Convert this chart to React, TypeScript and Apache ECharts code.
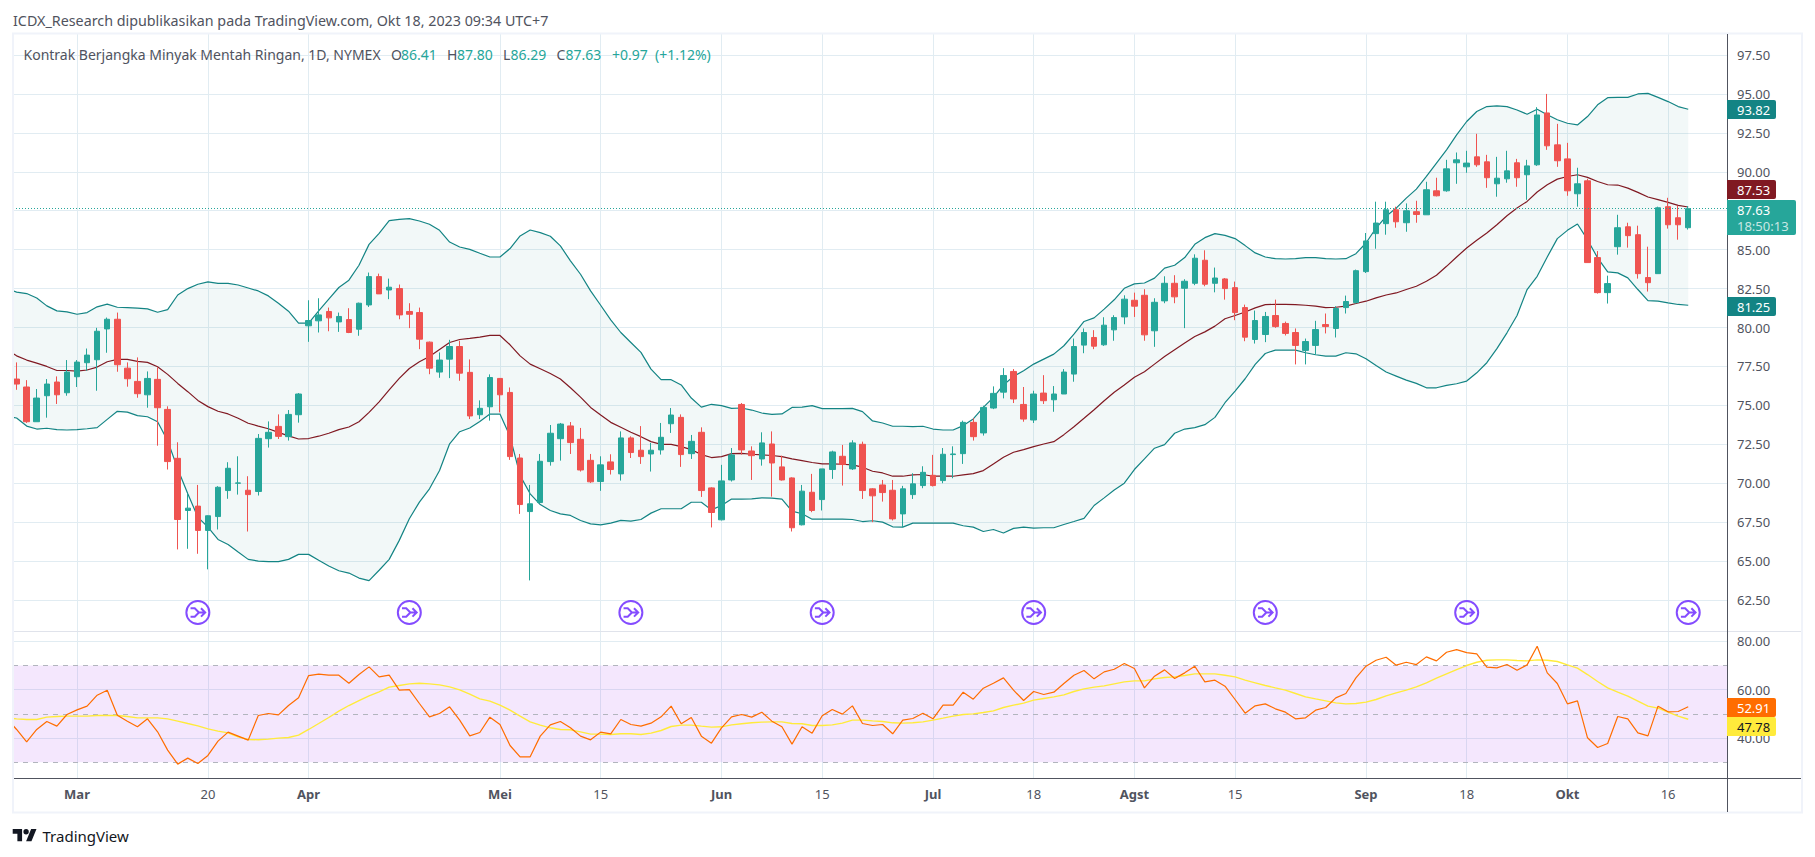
import React, { useEffect, useRef } from "react";
import * as echarts from "echarts";

const opens = [
  76.69,76.18,73.95,75.62,76.5,75.81,76.84,77.74,77.93,79.91,
  80.53,77.39,76.54,75.68,76.67,74.74,71.6,68.25,68.53,66.97,
  67.86,69.53,70.0,69.55,69.47,72.86,73.65,72.99,74.4,80.11,
  80.43,81.03,80.36,80.51,79.89,81.45,83.27,82.41,82.5,81.03,
  80.96,79.06,77.14,77.97,78.78,77.12,74.4,74.91,76.73,75.83,
  71.62,68.18,68.76,71.39,72.86,73.68,72.82,71.47,70.11,71.37,
  70.6,72.91,72.12,71.88,72.14,73.82,74.23,71.9,73.27,69.7,
  67.65,70.21,75.06,72.07,71.56,72.52,71.05,70.34,67.33,69.42,
  68.95,70.88,71.73,70.92,72.5,69.64,69.89,69.55,68.03,69.27,
  69.85,70.51,70.17,71.84,71.9,73.91,73.23,74.83,75.85,77.18,
  75.06,74.06,75.79,75.36,75.73,77.01,78.87,79.36,78.89,79.85,
  80.68,81.75,82.07,79.79,81.71,82.84,82.52,82.84,84.32,82.84,
  83.12,82.56,81.28,79.23,79.55,80.77,80.26,79.68,78.53,78.85,
  80.19,79.94,81.28,81.6,83.59,86.03,86.67,87.56,86.73,87.44,
  87.24,88.78,88.78,90.58,90.32,90.96,90.64,89.23,89.55,90.58,
  89.81,90.45,93.78,91.73,90.83,88.59,89.42,84.49,82.24,85.19,
  86.47,85.96,83.21,83.46,87.76,87.05,86.41,
];
const closes = [
  76.37,73.95,75.47,76.37,75.68,77.14,77.78,78.23,79.76,80.53,
  77.61,76.71,75.75,76.73,74.85,71.39,67.67,68.4,66.97,67.91,
  69.74,70.96,70.02,69.27,72.88,73.27,73.01,74.42,75.73,80.45,
  80.81,80.62,80.71,79.68,81.56,83.27,82.16,82.59,80.81,80.85,
  79.25,77.39,77.91,78.78,77.07,74.32,74.81,76.79,75.68,71.71,
  68.63,68.68,71.41,73.21,73.8,72.61,70.85,70.09,71.18,70.88,
  72.91,71.97,71.71,72.12,72.95,74.38,71.84,72.69,69.53,68.12,
  70.15,71.82,72.14,71.77,72.59,71.3,70.21,67.14,69.49,68.25,
  70.92,72.01,71.2,72.59,69.53,69.19,69.4,67.71,69.64,69.96,
  70.7,69.85,71.86,71.88,73.91,72.99,74.87,75.77,76.92,75.41,
  74.12,75.73,75.3,75.73,77.14,78.78,79.68,78.8,80.15,80.64,
  81.82,81.37,79.53,81.62,82.84,81.97,82.97,84.45,82.78,83.18,
  82.5,80.96,79.38,80.45,80.71,80.06,79.62,78.85,79.1,79.87,
  80.06,81.22,81.67,83.65,85.56,86.71,87.56,86.79,87.5,87.26,
  88.85,88.46,90.19,90.77,90.56,90.45,89.62,89.59,90.06,89.62,
  90.38,93.65,91.67,90.71,88.78,89.23,84.17,82.24,82.82,86.41,
  85.9,83.46,82.88,87.69,86.6,86.6,87.63,
];
const highs = [
  77.76,76.62,76.05,76.69,76.86,77.91,77.91,78.65,79.98,80.64,
  80.96,77.76,78.08,77.18,77.44,74.94,72.63,69.32,69.89,67.93,
  69.81,71.35,71.73,70.45,73.16,73.97,74.42,74.7,75.79,81.75,
  81.88,81.28,80.96,81.24,81.6,83.53,83.46,83.14,82.76,81.56,
  81.28,79.1,78.4,79.21,79.15,77.95,75.32,76.99,76.75,76.15,
  71.88,69.89,71.88,73.74,73.87,73.93,73.55,71.88,71.73,71.86,
  73.33,73.01,73.67,72.59,73.87,74.83,74.42,73.1,73.59,69.74,
  71.18,72.26,75.15,72.37,73.27,73.33,71.77,70.38,69.89,70.6,
  70.92,72.09,72.46,72.76,72.67,69.68,70.21,70.21,69.83,70.64,
  71.09,71.82,72.26,72.37,74.02,74.17,74.98,76.22,77.39,77.33,
  76.18,75.94,76.94,76.24,77.33,79.29,79.94,79.83,80.66,80.79,
  82.07,82.24,82.46,81.88,83.29,83.36,83.1,84.7,84.96,83.85,
  83.18,82.95,81.47,81.09,81.0,81.79,80.38,79.94,79.29,80.43,
  80.9,81.37,82.05,83.72,86.07,88.08,88.08,87.76,87.97,88.14,
  89.36,89.62,90.77,91.24,91.35,92.44,91.09,90.96,91.35,90.83,
  90.77,94.15,95.0,93.08,91.86,90.26,89.55,84.91,83.33,87.24,
  86.73,86.54,85.19,87.76,88.33,87.82,87.8,
];
const lows = [
  76.0,73.87,73.95,74.21,75.09,75.62,76.18,77.22,75.94,78.38,
  77.16,76.2,75.49,74.85,72.41,70.88,65.75,65.79,65.47,64.47,
  67.03,69.0,69.27,66.9,69.21,72.29,72.84,72.74,73.89,79.08,
  79.68,79.76,79.72,79.64,79.47,81.32,82.16,81.82,80.53,79.96,
  78.61,77.0,76.77,76.75,76.58,74.12,74.12,74.02,74.55,71.5,
  68.03,63.76,68.74,71.13,71.45,71.88,70.75,70.02,69.51,70.56,
  70.17,71.62,71.24,70.75,71.84,73.23,71.05,71.56,69.12,67.16,
  67.61,70.11,71.84,70.21,71.13,69.14,70.17,66.9,67.29,68.14,
  68.25,70.28,69.85,70.85,68.99,67.5,68.82,67.61,67.18,68.99,
  69.68,69.79,70.0,70.32,71.24,72.74,73.06,74.76,75.45,75.15,
  73.95,73.87,75.09,74.59,75.73,76.52,78.35,78.61,78.82,79.15,
  80.21,80.68,79.15,78.76,81.56,81.56,79.96,82.72,82.65,82.26,
  81.79,80.47,79.12,78.97,79.06,79.98,79.49,77.63,77.63,78.25,
  79.62,79.36,80.9,81.54,83.5,85.06,85.96,86.41,86.15,86.73,
  87.24,88.42,88.72,89.23,89.94,90.32,88.97,88.4,89.3,89.04,
  88.2,90.38,91.41,90.32,88.46,87.76,84.17,82.18,81.54,84.68,
  85.13,83.14,82.31,83.46,86.35,85.64,86.29,
];
const bbUpper = [
  82.27,82.18,81.9,81.39,81.07,81.0,80.85,80.96,81.33,81.5,
  81.3,81.28,81.24,81.2,80.98,81.15,82.09,82.5,82.78,82.93,
  82.84,82.84,82.73,82.54,82.35,82.03,81.56,81.05,80.28,80.28,
  81.07,81.82,82.57,83.04,84.0,85.34,86.05,86.86,86.95,86.99,
  86.84,86.63,86.24,85.49,85.17,85.02,84.77,84.53,84.53,85.07,
  85.88,86.26,86.09,85.86,85.24,84.28,83.42,82.35,81.43,80.49,
  79.68,79.04,78.4,77.33,76.65,76.65,76.31,75.47,74.89,75.07,
  74.98,74.81,74.83,74.7,74.51,74.42,74.45,74.87,74.89,74.98,
  74.79,74.79,74.79,74.81,74.6,74.0,73.87,73.66,73.66,73.63,
  73.66,73.48,73.42,73.42,73.7,74.13,74.87,75.51,76.31,76.86,
  77.22,77.65,77.97,78.29,78.83,79.57,80.39,80.62,81.18,81.78,
  82.52,82.8,82.86,83.17,83.81,84.0,84.49,85.34,85.77,86.03,
  85.92,85.71,85.26,84.79,84.53,84.42,84.4,84.42,84.49,84.49,
  84.42,84.4,84.42,84.74,85.43,86.39,87.14,87.67,88.31,88.89,
  89.7,90.56,91.41,92.37,93.23,93.87,94.19,94.23,94.19,93.97,
  93.7,94.02,93.66,93.34,93.12,93.01,93.55,94.3,94.76,94.78,
  94.78,95.0,95.04,94.78,94.51,94.19,94.02,
];
const bbLower = [
  74.19,73.67,73.48,73.53,73.44,73.42,73.44,73.5,73.57,74.1,
  74.62,74.57,74.34,74.27,73.95,72.73,70.92,69.32,67.82,67.18,
  66.39,66.07,65.58,65.11,65.0,64.96,64.96,65.11,65.43,65.43,
  65.05,64.68,64.38,64.23,63.91,63.74,64.41,65.11,66.33,67.72,
  68.79,69.64,70.82,72.53,73.31,73.55,73.97,74.44,74.44,73.01,
  70.49,69.32,68.63,68.25,68.03,67.93,67.61,67.39,67.33,67.44,
  67.61,67.57,67.67,68.08,68.36,68.36,68.36,68.78,68.78,68.29,
  68.57,68.98,68.98,69.0,69.06,69.04,68.98,68.21,68.04,67.69,
  67.69,67.69,67.69,67.67,67.54,67.59,67.5,67.2,67.18,67.44,
  67.44,67.44,67.44,67.44,67.27,67.18,66.9,67.03,66.8,67.1,
  67.18,67.12,67.14,67.14,67.35,67.54,67.74,68.57,69.06,69.57,
  70.0,70.88,71.56,72.25,72.48,73.21,73.48,73.57,73.76,74.23,
  75.17,75.92,76.71,77.63,78.33,78.55,78.55,78.55,78.38,78.25,
  78.16,78.16,78.38,78.31,77.99,77.56,77.14,76.88,76.62,76.41,
  76.13,76.13,76.28,76.39,76.56,77.09,77.74,78.64,79.66,80.77,
  82.44,83.29,84.53,85.71,86.24,86.65,85.64,84.47,83.57,83.51,
  83.19,82.44,81.73,81.69,81.58,81.48,81.43,
];
const bbBasis = [
  78.18,77.91,77.71,77.5,77.24,77.24,77.2,77.27,77.46,77.8,
  77.95,77.95,77.82,77.76,77.48,76.99,76.41,75.88,75.32,74.92,
  74.62,74.45,74.17,73.85,73.67,73.5,73.27,73.04,72.84,72.87,
  73.02,73.21,73.44,73.61,73.95,74.55,75.23,76.0,76.73,77.37,
  77.8,78.14,78.59,79.04,79.23,79.3,79.38,79.49,79.49,78.89,
  78.18,77.65,77.35,77.05,76.69,76.13,75.53,74.87,74.38,73.91,
  73.59,73.27,72.99,72.67,72.5,72.5,72.35,72.16,71.84,71.65,
  71.71,71.9,71.92,71.86,71.82,71.78,71.71,71.56,71.45,71.33,
  71.24,71.24,71.22,71.18,71.03,70.77,70.66,70.45,70.45,70.54,
  70.56,70.45,70.45,70.45,70.54,70.62,70.81,71.24,71.67,71.99,
  72.16,72.35,72.52,72.67,73.12,73.63,74.17,74.72,75.3,75.84,
  76.31,76.8,77.16,77.65,78.14,78.57,79.0,79.42,79.72,80.09,
  80.56,80.77,81.0,81.26,81.47,81.49,81.49,81.47,81.43,81.37,
  81.28,81.3,81.37,81.54,81.69,81.9,82.09,82.22,82.44,82.65,
  82.97,83.36,83.93,84.53,85.11,85.6,86.07,86.6,87.18,87.67,
  88.1,88.7,89.17,89.53,89.7,89.81,89.64,89.38,89.17,89.15,
  88.95,88.68,88.38,88.21,88.04,87.84,87.74,
];
const rsi = [
  43.54,38.45,43.54,46.84,44.91,49.73,51.65,53.17,57.71,59.77,
  49.45,46.98,44.64,47.94,42.57,35.01,29.23,31.71,29.51,32.81,
  38.72,42.44,40.79,39.14,49.31,50.14,49.59,53.44,56.61,65.82,
  66.37,65.96,65.96,62.66,66.23,69.4,65.27,65.96,59.77,60.04,
  54.27,48.76,50.14,52.89,47.39,40.92,42.3,48.63,45.6,36.93,
  32.26,32.26,40.79,45.46,46.84,44.23,40.79,39.27,42.44,41.75,
  47.66,45.6,44.91,46.15,48.76,53.17,45.88,48.49,40.79,37.9,
  44.23,48.76,49.73,48.63,50.69,46.98,44.64,37.49,44.64,42.02,
  49.18,51.79,49.87,53.3,46.01,45.19,45.6,41.75,47.39,48.08,
  50.28,47.94,53.58,53.58,58.94,56.06,60.59,62.66,64.86,59.77,
  55.5,59.22,57.98,58.94,62.52,65.96,67.88,64.45,67.33,68.43,
  70.77,68.71,60.73,65.55,68.16,64.58,66.92,69.67,63.21,63.9,
  61.42,55.92,50.28,53.3,54.13,52.07,50.69,47.94,48.35,51.52,
  52.62,56.61,58.39,64.86,69.67,72.15,73.39,70.09,71.32,70.36,
  73.52,71.87,75.45,76.55,75.31,74.76,69.26,68.99,70.36,68.02,
  70.22,77.93,66.92,62.52,54.13,55.37,40.1,36.11,37.76,48.9,
  47.94,42.16,40.92,53.17,50.83,50.97,52.91,
];
const rsiMa = [
  47.94,47.66,47.66,48.63,48.9,49.04,49.04,49.04,49.31,49.31,
  49.31,48.9,48.35,48.35,48.35,47.94,46.98,46.01,45.05,43.81,
  42.85,42.16,40.51,39.41,39.27,39.55,39.96,40.24,41.2,43.54,
  46.01,48.49,51.1,53.44,55.5,57.43,59.08,61.01,61.7,62.38,
  62.66,62.38,61.97,61.15,59.91,58.12,56.19,55.23,53.58,51.52,
  49.04,46.7,45.33,44.23,43.54,43.4,42.57,41.61,41.61,41.47,
  41.75,41.75,41.47,42.02,43.12,44.78,45.33,45.33,44.91,44.5,
  44.64,45.46,45.88,46.29,46.56,46.7,46.7,46.01,45.88,45.19,
  45.19,45.46,46.15,47.39,47.39,47.11,46.84,46.29,46.15,46.29,
  46.7,47.39,48.21,49.04,49.73,50.0,50.55,51.24,52.62,53.58,
  54.4,55.64,56.33,57.02,57.84,59.22,60.32,61.01,61.56,62.38,
  63.21,63.62,63.62,64.45,65.0,65.27,65.82,66.51,66.51,66.51,
  65.96,65.27,63.9,62.8,61.7,60.73,59.77,58.39,57.02,56.19,
  55.37,54.54,54.13,54.27,54.82,55.92,57.43,58.67,59.77,61.15,
  62.8,64.72,66.51,68.3,69.95,71.32,72.15,72.29,72.29,72.01,
  71.87,72.29,72.15,71.6,70.22,68.85,66.23,63.35,60.73,58.94,
  57.29,55.23,53.17,52.34,50.69,49.04,47.78,
];

// value of each study at the left edge of the pane, where the line enters
const leadUpper = 82.36;
const leadLower = 74.23;
const leadBasis = 78.33;
const leadRsi = 45.19;
const leadMa = 48.07;

const timeTickDays = [6, 19, 29, 48, 58, 70, 80, 91, 101, 111, 121, 134, 144, 154, 164];
const timeTickLabels = ["Mar", "20", "Apr", "Mei", "15", "Jun", "15", "Jul", "18", "Agst", "15", "Sep", "18", "Okt", "16"];
const monthLabels = ["Mar", "Apr", "Mei", "Jun", "Jul", "Agst", "Sep", "Okt"];
const priceTicks = [62.5, 65, 67.5, 70, 72.5, 75, 77.5, 80, 82.5, 85, 87.5, 90, 92.5, 95, 97.5];
const rsiTicks = [40, 60, 80];
const rsiDashed = [70, 50, 30];
const ideaDays = [18, 39, 61, 80, 101, 124, 144, 166];
const ideaLevel = 61.7;
const lastClose = 87.63;

const headerText = "ICDX_Research dipublikasikan pada TradingView.com, Okt 18, 2023 09:34 UTC+7";
const legendTitle = "Kontrak Berjangka Minyak Mentah Ringan, 1D, NYMEX";

const FONT = '"Noto Sans", sans-serif';
const UP = "#26a69a";
const DOWN = "#ef5350";
const TEXT = "#50535e";
const GRID = "#e1ecf2";
const BAND = "#138484";
const BASIS = "#801922";

const xMin = -0.3575;
const xMax = 169.85;

const withLead = (lead: number, values: number[]) => [[xMin, lead], ...values.map((v, i) => [i, v])];

const IDEA_ICON =
  "path://M1 12A11 11 0 1 1 23 12A11 11 0 1 1 1 12ZM5 8L9 8L13 12L19 12M5 16L9 16L13 12M15 8L19 12L15 16";

const TV_LOGO = "M14 22H7V11H0V4h14v18zM28 22h-8l7.5-18h8L28 22zM24 8a4 4 0 1 1-8 0a4 4 0 1 1 8 0z";

function label(text: string, x: number, y: number, fill: string, size = 13) {
  return {
    type: "text",
    x,
    y,
    z: 110,
    silent: true,
    style: { text, fill, font: `normal ${size}px ${FONT}`, verticalAlign: "middle", textAlign: "left" },
  };
}

function tag(text: string, top: number, height: number, bg: string, fg: string) {
  return [
    {
      type: "rect",
      z: 105,
      silent: true,
      shape: { x: 1727, y: top, width: 49, height, r: [0, 2, 2, 0] },
      style: { fill: bg },
    },
    label(text, 1737, top + height / 2, fg),
  ];
}

function buildOption() {
  const candleData = opens.map((o, i) => [i, o, closes[i], lows[i], highs[i]]);
  const legendParts = [
    { t: legendTitle, x: 23.5, c: TEXT },
    { t: "O", x: 391, c: TEXT },
    { t: opens[166].toFixed(2), x: 401, c: UP },
    { t: "H", x: 447, c: TEXT },
    { t: highs[166].toFixed(2), x: 457, c: UP },
    { t: "L", x: 503, c: TEXT },
    { t: lows[166].toFixed(2), x: 510.5, c: UP },
    { t: "C", x: 556.5, c: TEXT },
    { t: closes[166].toFixed(2), x: 565.5, c: UP },
    { t: "+0.97", x: 612, c: UP },
    { t: "(+1.12%)", x: 655, c: UP },
  ];

  const timeAxis = (gridIndex: number, showLabel: boolean) => ({
    type: "value",
    gridIndex,
    min: xMin,
    max: xMax,
    axisLine: { show: false },
    axisTick: { show: false, customValues: timeTickDays },
    axisLabel: {
      show: showLabel,
      customValues: timeTickDays,
      margin: 9,
      fontFamily: FONT,
      fontSize: 13,
      color: TEXT,
      hideOverlap: false,
      showMinLabel: true,
      showMaxLabel: true,
      formatter: (v: number) => {
        const t = timeTickLabels[timeTickDays.indexOf(v)] ?? "";
        return monthLabels.includes(t) ? `{m|${t}}` : t;
      },
      rich: { m: { fontFamily: FONT, fontSize: 13, fontWeight: "bold", color: TEXT } },
    },
    splitLine: { show: true, lineStyle: { color: GRID, width: 1 } },
  });

  const lineBase = { type: "line", symbol: "none", silent: true, smooth: false, clip: true };

  return {
    animation: false,
    backgroundColor: "#ffffff",
    grid: [
      { left: 13, right: 88, top: 34, height: 597 },
      { left: 13, right: 88, top: 632, height: 146 },
    ],
    xAxis: [timeAxis(0, false), timeAxis(1, true)],
    yAxis: [
      {
        type: "value",
        gridIndex: 0,
        position: "right",
        min: 60.51,
        max: 98.85,
        axisLine: { show: false },
        axisTick: { show: false, customValues: priceTicks },
        axisLabel: {
          customValues: priceTicks,
          margin: 10,
          fontFamily: FONT,
          fontSize: 13,
          color: TEXT,
          formatter: (v: number) => v.toFixed(2),
        },
        splitLine: { show: true, lineStyle: { color: GRID, width: 1 } },
      },
      {
        type: "value",
        gridIndex: 1,
        position: "right",
        min: 23.5,
        max: 83.8,
        axisLine: { show: false },
        axisTick: { show: false, customValues: rsiTicks },
        axisLabel: {
          customValues: rsiTicks,
          margin: 10,
          fontFamily: FONT,
          fontSize: 13,
          color: TEXT,
          formatter: (v: number) => v.toFixed(2),
        },
        splitLine: { show: true, lineStyle: { color: GRID, width: 1 } },
      },
    ],
    series: [
      {
        type: "custom",
        name: "BB fill",
        xAxisIndex: 0,
        yAxisIndex: 0,
        silent: true,
        clip: true,
        z: 2,
        data: [[0, bbUpper[0]]],
        renderItem: (_p: any, api: any) => {
          const top = withLead(leadUpper, bbUpper).map((d) => api.coord(d));
          const bot = withLead(leadLower, bbLower).map((d) => api.coord(d)).reverse();
          return {
            type: "polygon",
            shape: { points: [...top, ...bot] },
            style: { fill: "rgba(19,132,132,0.055)", stroke: "none" },
          };
        },
      },
      {
        ...lineBase,
        name: "BB upper",
        xAxisIndex: 0,
        yAxisIndex: 0,
        z: 3,
        data: withLead(leadUpper, bbUpper),
        lineStyle: { color: BAND, width: 1.2 },
      },
      {
        ...lineBase,
        name: "BB lower",
        xAxisIndex: 0,
        yAxisIndex: 0,
        z: 3,
        data: withLead(leadLower, bbLower),
        lineStyle: { color: BAND, width: 1.2 },
      },
      {
        ...lineBase,
        name: "BB basis",
        xAxisIndex: 0,
        yAxisIndex: 0,
        z: 3,
        data: withLead(leadBasis, bbBasis),
        lineStyle: { color: BASIS, width: 1.2 },
      },
      {
        type: "candlestick",
        name: "CL1!",
        xAxisIndex: 0,
        yAxisIndex: 0,
        silent: true,
        z: 4,
        barWidth: 6,
        data: candleData,
        itemStyle: {
          color: UP,
          color0: DOWN,
          borderColor: UP,
          borderColor0: DOWN,
          borderColorDoji: UP,
          borderWidth: 1,
        },
        markLine: {
          silent: true,
          symbol: "none",
          label: { show: false },
          z: 5,
          lineStyle: { color: UP, type: [1, 2], width: 1 },
          data: [{ yAxis: lastClose }],
        },
      },
      {
        type: "scatter",
        name: "Ideas",
        xAxisIndex: 0,
        yAxisIndex: 0,
        silent: true,
        z: 6,
        symbol: IDEA_ICON,
        symbolSize: 23,
        data: ideaDays.map((d) => [d, ideaLevel]),
        itemStyle: { color: "rgba(0,0,0,0)", borderColor: "#651fff", borderWidth: 2 },
      },
      {
        ...lineBase,
        name: "RSI MA",
        xAxisIndex: 1,
        yAxisIndex: 1,
        z: 4,
        data: withLead(leadMa, rsiMa),
        lineStyle: { color: "#ffeb3b", width: 1.4 },
        markArea: {
          silent: true,
          z: 1,
          itemStyle: { color: "rgba(145,15,235,0.1)" },
          data: [[{ yAxis: 30 }, { yAxis: 70 }]],
        },
        markLine: {
          silent: true,
          symbol: "none",
          label: { show: false },
          z: 2,
          lineStyle: { color: "#b2b5be", type: [5, 5], width: 1 },
          data: rsiDashed.map((v) => ({ yAxis: v })),
        },
      },
      {
        ...lineBase,
        name: "RSI",
        xAxisIndex: 1,
        yAxisIndex: 1,
        z: 5,
        data: withLead(leadRsi, rsi),
        lineStyle: { color: "#ff6d00", width: 1.2 },
      },
    ],
    graphic: {
      elements: [
        {
          type: "rect",
          z: 100,
          silent: true,
          shape: { x: 13, y: 33.5, width: 1789, height: 779 },
          style: { fill: "none", stroke: "#f0f3fa", lineWidth: 2 },
        },
        {
          type: "line",
          z: 101,
          silent: true,
          shape: { x1: 14, y1: 631.5, x2: 1801, y2: 631.5 },
          style: { stroke: "#e0e3eb", lineWidth: 1 },
        },
        {
          type: "line",
          z: 102,
          silent: true,
          shape: { x1: 14, y1: 778.5, x2: 1801, y2: 778.5 },
          style: { stroke: TEXT, lineWidth: 1 },
        },
        {
          type: "line",
          z: 102,
          silent: true,
          shape: { x1: 1727.5, y1: 34, x2: 1727.5, y2: 812 },
          style: { stroke: TEXT, lineWidth: 1 },
        },
        label(headerText, 13, 20, TEXT, 14.3),
        ...legendParts.map((p) => label(p.t, p.x, 54, p.c, 14)),
        ...tag("93.82", 100, 19, BAND, "#ffffff"),
        ...tag("87.53", 180, 19, BASIS, "#ffffff"),
        ...tag("81.25", 297, 19, BAND, "#ffffff"),
        {
          type: "rect",
          z: 105,
          silent: true,
          shape: { x: 1727, y: 200, width: 69, height: 35, r: [0, 2, 2, 0] },
          style: { fill: UP },
        },
        label(closes[166].toFixed(2), 1737, 210, "#ffffff"),
        label("18:50:13", 1737, 226, "rgba(255,255,255,0.75)"),
        ...tag("52.91", 698, 19, "#ff6d00", "#ffffff"),
        ...tag("47.78", 717, 19, "#ffeb3b", "#131722"),
        {
          type: "tvLogo",
          z: 110,
          silent: true,
          x: 12.7,
          y: 826.4,
          scaleX: 0.67,
          scaleY: 0.67,
          style: { fill: "#131722" },
        },
        label("TradingView", 42.5, 836, "#131722", 15),
      ],
    },
  };
}

export default function App() {
  const ref = useRef<HTMLDivElement>(null);
  useEffect(() => {
    (echarts.graphic as any).registerShape("tvLogo", (echarts.graphic as any).extendPath(TV_LOGO, {}));
    const chart = echarts.init(ref.current!, undefined, { renderer: "svg" });
    chart.setOption(buildOption() as any);
    return () => chart.dispose();
  }, []);
  return <div ref={ref} style={{ position: "absolute", left: 0, top: 0, width: 1815, height: 857 }} />;
}
